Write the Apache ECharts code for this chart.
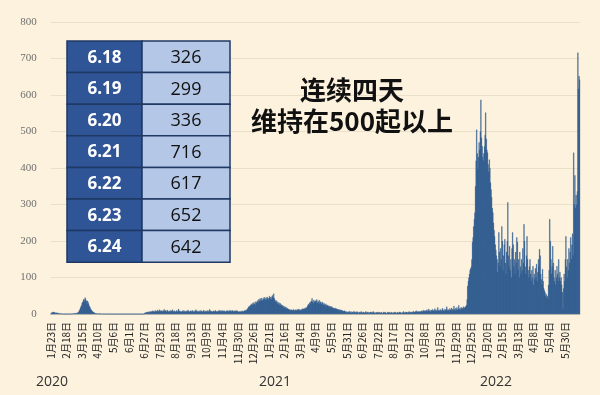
<!DOCTYPE html>
<html><head><meta charset="utf-8">
<script src="https://cdn.jsdelivr.net/npm/echarts@6/dist/echarts.min.js"></script>
<style>html,body{margin:0;padding:0;background:#fcf2dd}#c{width:600px;height:395px}</style>
</head><body><div id="c"></div>
<script>
// Daily values, 2020-01-23 .. 2020-12-31
const cases2020 = [
2,3,5,4,6,3,5,4,2,3,4,2,3,1,2,1,2,1,1,
0,1,0,1,0,0,1,0,1,0,0,1,0,1,1,0,1,1,2,1,2,1,2,3,2,3,
4,6,8,12,16,20,24,30,33,38,41,35,45,40,37,28,36,32,27,22,19,15,12,10,8,6,5,4,3,2,2,
1,2,1,1,0,1,2,1,0,1,1,0,1,0,0,1,0,1,0,0,
0,1,0,0,1,0,0,0,1,0,0,0,0,1,0,0,0,0,0,1,
0,0,0,1,0,0,0,0,0,0,1,0,0,0,0,1,0,0,0,0,
0,0,1,0,0,0,0,0,1,0,0,0,0,0,1,0,0,0,1,0,
3,2,4,5,3,6,4,5,7,4,6,8,5,7,9,6,8,5,10,7,
6,9,11,7,8,12,6,9,7,10,8,6,9,13,7,10,8,6,11,9,
7,5,8,10,6,9,7,12,8,6,9,7,5,8,10,6,8,14,7,9,
6,8,5,7,9,6,10,7,5,8,6,9,7,11,8,5,7,9,6,8,
10,7,5,9,6,8,12,7,9,6,8,5,7,10,6,9,7,5,8,11,
6,8,7,9,5,7,10,6,8,13,7,9,6,8,5,7,9,6,8,10,
7,5,8,6,9,7,11,8,6,9,7,10,8,6,9,7,5,8,10,7,
9,6,8,11,7,9,6,10,8,7,9,6,8,10,7,9,8,
6,5,7,8,5,6,9,7,8,6,10,8,9,12,10,14,16,20,18,22,25,21,28,24,30,26,32,28,25,34,30
];
// Daily values, 2021-01-01 .. 2021-12-31
const cases2021 = [
33,37,31,40,35,42,37,44,39,36,43,40,46,42,38,45,41,47,43,39,
44,49,42,46,40,48,51,45,56,43,39,35,32,37,29,33,27,31,25,29,
23,26,21,24,19,22,17,20,15,18,14,16,12,14,11,13,10,
10,12,9,11,13,10,8,12,11,9,13,10,12,14,11,9,12,10,13,15,12,14,16,13,15,18,17,
20,24,27,24,31,29,34,36,43,33,29,38,35,32,37,34,40,30,35,32,38,28,34,31,27,33,29,25,30,26,23,28,24,21,25,20,23,19,22,18,21,17,19,16,
15,17,14,16,13,15,12,14,11,13,10,12,9,11,9,10,8,7,9,8,
6,4,7,5,3,6,8,4,5,7,3,5,6,4,8,5,3,6,4,7,
5,3,4,6,2,5,7,4,3,5,6,4,3,5,7,3,4,6,2,5,
4,3,6,5,3,4,7,5,3,4,2,5,4,3,6,4,2,5,3,4,
5,3,2,4,6,3,5,4,2,3,4,6,3,5,2,4,3,5,4,2,
3,5,4,6,3,2,4,5,3,4,6,3,5,2,4,3,5,7,4,3,
5,4,6,3,5,4,7,5,3,6,4,6,5,8,4,6,5,7,9,5,
6,8,5,7,6,
7,5,9,6,8,11,6,9,7,10,8,12,7,9,14,8,10,6,11,9,
13,7,10,8,15,9,12,7,10,18,9,11,8,13,10,7,12,16,9,11,
8,14,10,12,20,9,13,11,8,15,12,10,17,9,14,11,22,13,10,16,
12,18,11,14,24,13,16,12,19,14,17,13,20,
15,18,20,20,25,40,77,90,100,110,120,125,130,150,197,210,240,260,278
];
// Daily values, 2022-01-01 .. 2022-06-17
const cases2022 = [
350,420,505,440,396,430,470,450,500,587,483,460,430,420,440,459,490,552,480,450,
442,410,390,423,400,360,341,320,290,278,250,230,213,190,175,160,150,115,
140,224,170,130,180,150,240,200,120,160,190,205,140,110,170,200,306,160,130,186,
120,150,100,180,224,190,130,150,110,170,140,210,197,120,150,100,170,130,110,150,
120,180,140,246,200,130,110,160,213,150,120,100,130,150,
110,90,120,100,131,80,110,95,125,100,137,90,115,150,130,178,160,110,95,80,
123,90,70,65,60,50,55,45,50,41,80,120,260,200,150,110,130,186,140,100,
90,120,80,100,131,110,90,150,100,115,
90,100,80,60,14,70,110,90,150,213,130,100,150,120,180,140,170,210,150,190,
220,160,442,300,380,290
];
// Table (2022-06-18 .. 06-24)
const tableDates = ['6.18','6.19','6.20','6.21','6.22','6.23','6.24'];
const tableValues = [326,299,336,716,617,652,642];
const yearLabels = ['2020','2021','2022'];
const titleLines = ['连续四天','维持在500起以上'];

const values = cases2020.concat(cases2021, cases2022, tableValues);
const dates = [];
for (let i = 0; i < values.length; i++) {
  const d = new Date(2020, 0, 23 + i);
  dates.push((d.getMonth() + 1) + '月' + d.getDate() + '日');
}

const graphics = [];
const tX = 67, tY = 41, c1 = 75, c2 = 88, rh = 31.6;
tableDates.forEach((t, i) => {
  const y = tY + i * rh;
  graphics.push({type:'rect', shape:{x:tX, y:y, width:c1, height:rh},
    style:{fill:'#2f5597', stroke:'#1f3864', lineWidth:1.5}, z:10});
  graphics.push({type:'rect', shape:{x:tX + c1, y:y, width:c2, height:rh},
    style:{fill:'#b4c7e7', stroke:'#1f3864', lineWidth:1.5}, z:10});
  graphics.push({type:'text', x:tX + c1 / 2, y:y + rh / 2 + 1, z:11,
    style:{text:t, fill:'#ffffff', font:'bold 17px "Open Sans", sans-serif', align:'center', verticalAlign:'middle'}});
  graphics.push({type:'text', x:tX + c1 + c2 / 2, y:y + rh / 2 + 1, z:11,
    style:{text:String(tableValues[i]), fill:'#111111', font:'18px "Open Sans", sans-serif', align:'center', verticalAlign:'middle'}});
});
titleLines.forEach((t, i) => {
  graphics.push({type:'text', x:352, y:90 + i * 31, z:11,
    style:{text:t, fill:'#111111', font:'bold 26px "Noto Sans CJK SC", sans-serif', align:'center', verticalAlign:'middle'}});
});
const yearX = [52, 275, 496];
yearLabels.forEach((t, i) => {
  graphics.push({type:'text', x:yearX[i], y:382, z:11,
    style:{text:t, fill:'#333333', font:'14px "Open Sans", sans-serif', align:'center', verticalAlign:'middle'}});
});

const chart = echarts.init(document.getElementById('c'), null, {renderer:'canvas'});
chart.setOption({
  animation: false,
  backgroundColor: '#fcf2dd',
  grid: {left: 50.7, right: 20, top: 22, bottom: 81},
  xAxis: {
    type: 'category', data: dates, boundaryGap: true,
    axisLine: {show: true, lineStyle: {color: '#c8c0b0', width: 1}},
    axisTick: {show: false},
    axisLabel: {interval: 25, rotate: 90, fontSize: 10, color: '#222222', margin: 8,
      fontFamily: '"Noto Sans CJK SC", sans-serif'}
  },
  yAxis: {
    type: 'value', min: 0, max: 800, interval: 100,
    axisLine: {show: false}, axisTick: {show: false},
    axisLabel: {fontSize: 11, color: '#707070', margin: 14, fontFamily: '"Liberation Serif", serif'},
    splitLine: {lineStyle: {color: '#ebe0ca', width: 1}}
  },
  series: [{
    type: 'bar', data: values, barCategoryGap: '0%',
    itemStyle: {color: '#2b5a8e', borderColor: '#2b5a8e', borderWidth: 0.3}
  }],
  graphic: graphics
});
</script>
</body></html>
